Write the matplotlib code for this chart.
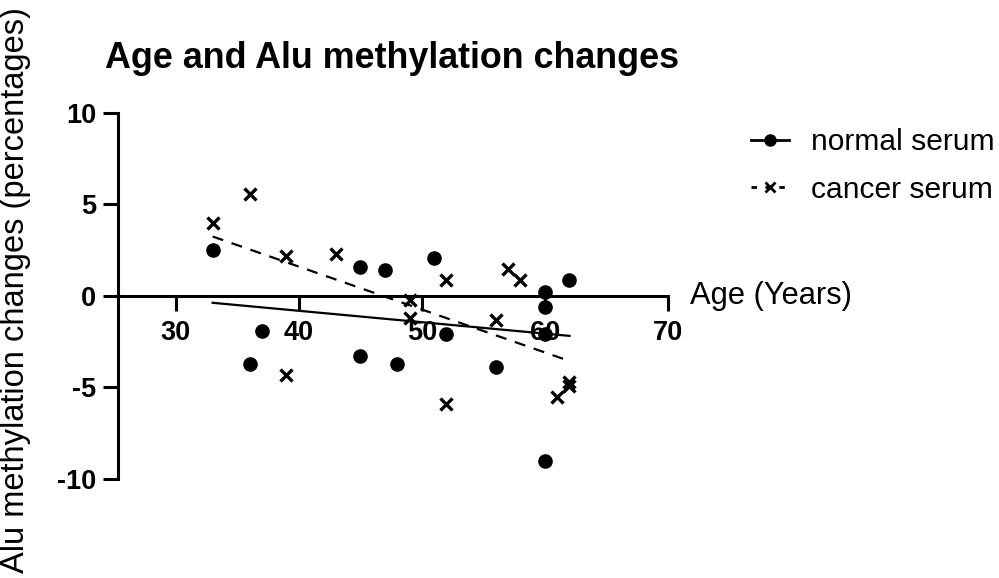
import numpy as np
import matplotlib.pyplot as plt
from matplotlib.lines import Line2D

plt.rcParams['font.family'] = ['Liberation Sans', 'DejaVu Sans']
plt.rcParams['axes.unicode_minus'] = False

# age (years) and Alu methylation change (%) per subject
normal_age = [33, 36, 37, 45, 45, 47, 48, 51, 52, 56, 60, 60, 60, 60, 62]
normal_change = [2.5, -3.7, -1.9, 1.6, -3.3, 1.4, -3.7, 2.1, -2.1, -3.9,
                 0.2, -0.6, -2.1, -9.0, 0.9]

cancer_age = [33, 36, 39, 39, 43, 49, 49, 52, 52, 56, 57, 58, 61, 62, 62]
cancer_change = [4.0, 5.6, 2.2, -4.3, 2.3, -0.2, -1.2, 0.9, -5.9, -1.3,
                 1.5, 0.9, -5.5, -4.9, -4.7]

xticks = [30, 40, 50, 60, 70]
yticks = [-10, -5, 0, 5, 10]

fig = plt.figure(figsize=(9.99, 5.78), dpi=100)
ax = fig.add_axes([0.118, 0.1713, 0.5506, 0.6332])

# linear fits drawn over each group's age range
def fit_line(x, y):
    x = np.asarray(x, float)
    y = np.asarray(y, float)
    k, b = np.polyfit(x, y, 1)
    xs = np.array([x.min(), x.max()])
    return xs, k * xs + b

xs, ys = fit_line(normal_age, normal_change)
ax.plot(xs, ys, color='k', lw=1.6, zorder=2)
xs, ys = fit_line(cancer_age, cancer_change)
ax.plot(xs, ys, color='k', lw=1.6, ls=(0, (5, 4)), zorder=2)

ax.plot(normal_age, normal_change, 'o', color='k', ms=9.5, zorder=3,
        clip_on=False)
ax.plot(cancer_age, cancer_change, 'x', color='k', ms=8, mew=2.4,
        zorder=3, clip_on=False)

ax.set_xlim(25.3, 70)
ax.set_ylim(-10, 10)
ax.set_xticks(xticks)
ax.set_yticks(yticks)
ax.spines['top'].set_visible(False)
ax.spines['right'].set_visible(False)
ax.spines['bottom'].set_position(('data', 0))
for s in ['left', 'bottom']:
    ax.spines[s].set_linewidth(2.2)
ax.tick_params(width=2.2, length=10.5, labelsize=19.5)
ax.tick_params(axis='x', pad=7)
ax.tick_params(axis='y', pad=5)
for lab in ax.get_xticklabels() + ax.get_yticklabels():
    lab.set_fontweight('bold')

ax.text(71.8, 0, 'Age (Years)', fontsize=22.2, va='center', ha='left',
        clip_on=False)
fig.text(0.016, 0.498, 'Alu methylation changes (percentages)',
         rotation=90, fontsize=23.5, va='center', ha='center')
fig.text(0.105, 0.898, 'Age and Alu methylation changes', fontsize=25.8,
         fontweight='bold', va='center', ha='left')

handles = [
    Line2D([], [], color='k', lw=2, marker='o', ms=8),
    Line2D([], [], color='k', lw=2, ls=(0, (2, 3)), marker='x', ms=7, mew=2),
]
fig.legend(handles, ['normal serum', 'cancer serum'], loc='upper left',
           bbox_to_anchor=(0.752, 0.778), frameon=False, fontsize=21.6,
           handlelength=1.25, handletextpad=0.75, labelspacing=0.65,
           borderaxespad=0, borderpad=0)

fig.savefig('out.png', dpi=100)
